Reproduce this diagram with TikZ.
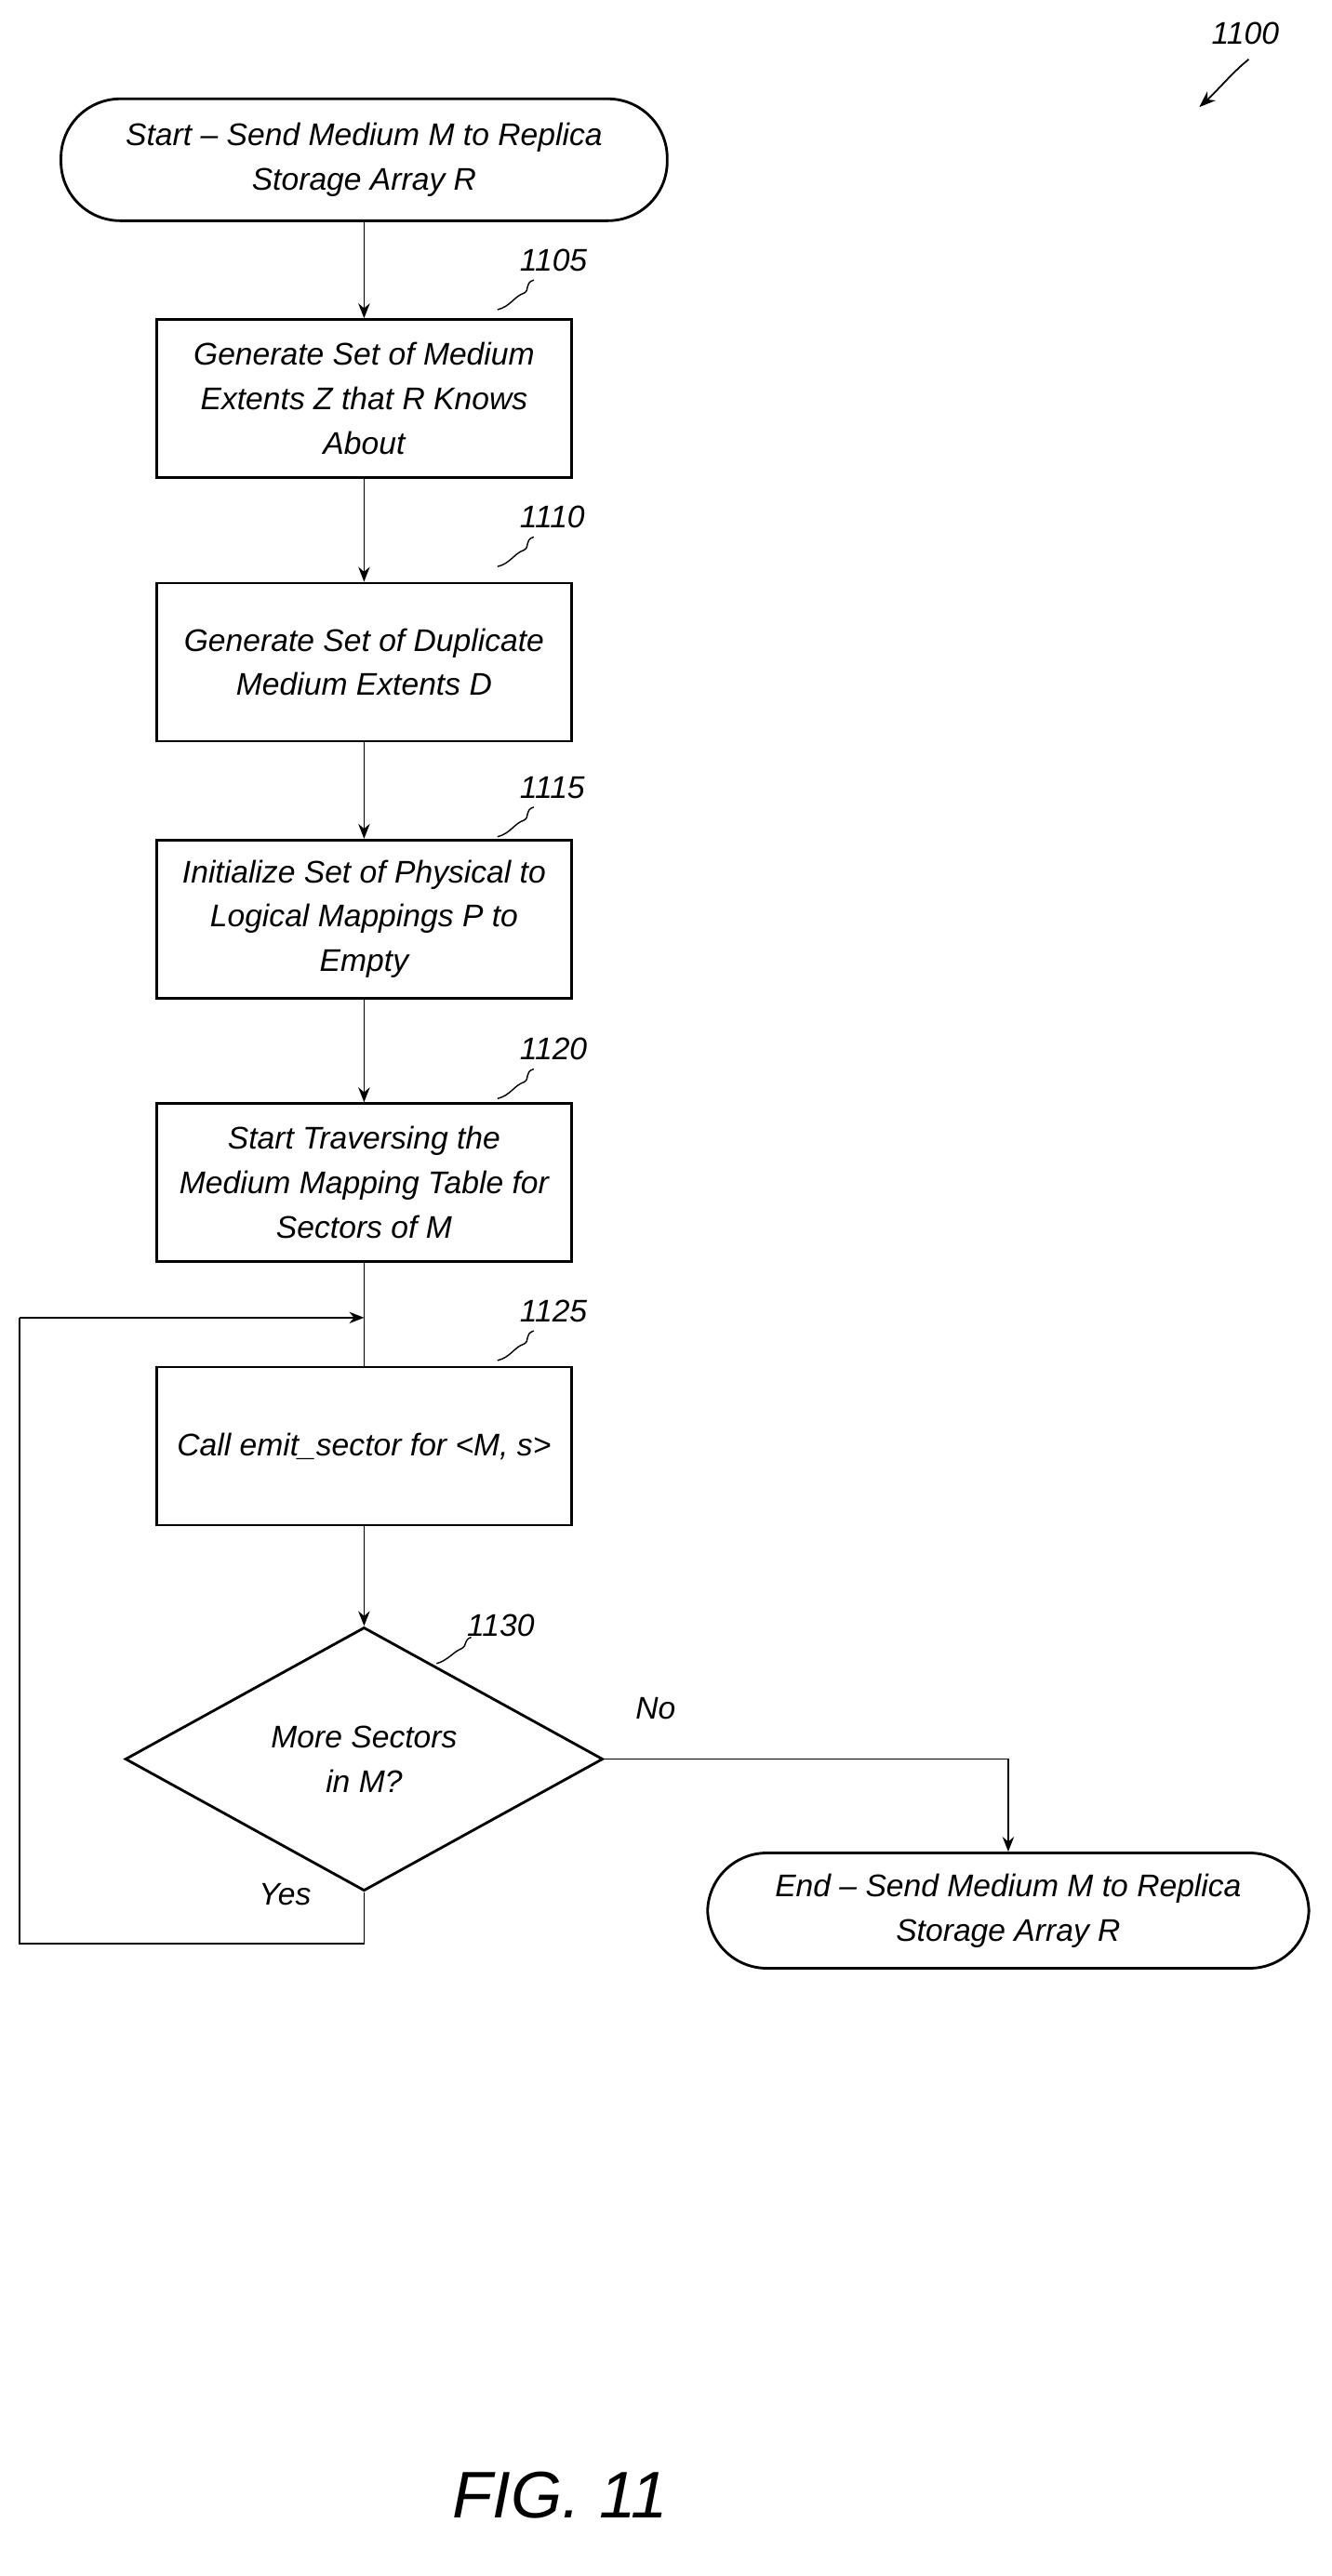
\documentclass[tikz,border=0pt]{standalone}
\usepackage{fontspec}
\setmainfont{Liberation Sans}
\usetikzlibrary{shapes.geometric,arrows.meta,decorations.pathmorphing}
\begin{document}
\begin{tikzpicture}[x=1pt,y=-1pt,
  every node/.style={font=\fontsize{19}{27}\selectfont\itshape},
  box/.style={draw,line width=1.6pt,minimum width=252pt,minimum height=96pt,align=center,inner sep=2pt},
  term/.style={draw,line width=1.6pt,rounded corners=36pt,minimum height=74pt,align=center},
  arr/.style={line width=1pt,-{Stealth[length=9pt,width=7pt]}},
  ln/.style={line width=1pt},
  lab/.style={font=\fontsize{19}{23}\selectfont\itshape},
  sq/.style={line width=0.8pt}]
\useasboundingbox (0,0) rectangle (808,1564);
\node[term,minimum width=368pt] (s) at (221,97) {Start -- Send Medium M to Replica\\Storage Array R};
\node[box] (b1) at (221,242) {Generate Set of Medium\\Extents Z that R Knows\\About};
\node[box] (b2) at (221,402) {Generate Set of Duplicate\\Medium Extents D};
\node[box] (b3) at (221,558) {Initialize Set of Physical to\\Logical Mappings P to\\Empty};
\node[box] (b4) at (221,718) {Start Traversing the\\Medium Mapping Table for\\Sectors of M};
\node[box] (b5) at (221,878) {Call emit\_sector for <M, s>};
\node[draw,diamond,line width=1.6pt,aspect=1.81,minimum width=290pt,minimum height=160pt,inner sep=0pt,align=center] (d) at (221,1068) {More Sectors\\in M?};
\node[term,minimum width=365pt,minimum height=70pt] (e) at (612,1160) {End -- Send Medium M to Replica\\Storage Array R};
\draw[arr] (s) -- (b1);
\draw[arr] (b1) -- (b2);
\draw[arr] (b2) -- (b3);
\draw[arr] (b3) -- (b4);
\draw[arr] (b5) -- (d);
\coordinate (j) at (221,800);
\draw[ln] (b4) -- (b5);
\draw[ln] (d.south) -- (221,1180) -- (12,1180) -- (12,800) coordinate (c1);
\draw[arr] (c1) -- (j);
\draw[arr] (d.east) -| (e.north);
\node[lab] at (398,1037) {No};
\node[lab] at (173,1150) {Yes};
\foreach \n/\y in {1105/158,1110/314,1115/478,1120/637,1125/796}{
  \node[lab,anchor=west] (l\n) at (312,\y) {\n};
  \draw[sq] (302,\y+30) .. controls (310,\y+28) and (312,\y+22) .. (318,\y+20) .. controls (322,\y+18) and (318,\y+14) .. (324,\y+12);
}
\node[lab,anchor=west] (l1130) at (280,987) {1130};
\draw[sq] (265,1010) .. controls (272,1008) and (275,1003) .. (280,1001) .. controls (284,999) and (281,996) .. (286,994);
\node[lab,anchor=west] (l1100) at (732,20) {1100};
\coordinate (t1100) at (728,65);
\draw[line width=1pt,-{Stealth[length=10pt]}] (758,36) .. controls (748,44) and (740,54) .. (t1100);
\node[font=\fontsize{40}{48}\selectfont\itshape] (fig) at (340,1515) {FIG. 11};
\end{tikzpicture}
\end{document}
